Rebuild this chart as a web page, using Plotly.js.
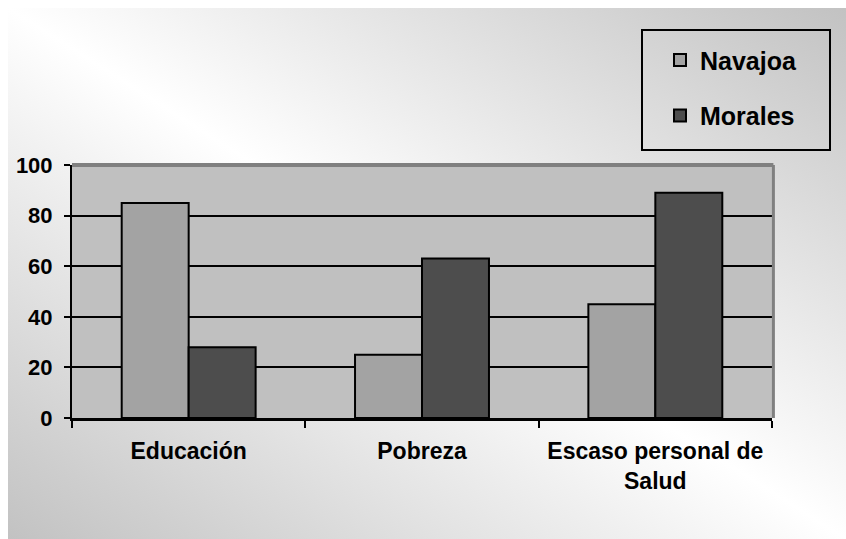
<!DOCTYPE html>
<html>
<head>
<meta charset="utf-8">
<script src="https://cdn.plot.ly/plotly-3.0.1.min.js"></script>
<style>
  html, body { margin: 0; padding: 0; background: #ffffff; }
  #bg { position: absolute; left: 8px; top: 8px; width: 838px; height: 531px;
        background: linear-gradient(to top right, #c2c2c2 0%, #ffffff 50%, #c2c2c2 100%); }
  #chart { position: absolute; left: 0; top: 0; width: 846px; height: 539px; }
</style>
</head>
<body>
<div id="bg"></div>
<div id="chart"></div>
<script>
const categories = ["Educación", "Pobreza", "Escaso personal de<br>Salud"];
const seriesNames = ["Navajoa", "Morales"];
const navajoa = [85, 25, 45];
const morales = [28, 63, 89];
const yTicks = [0, 20, 40, 60, 80, 100];

const font = "Liberation Sans, Arial, sans-serif";

const traces = [
  {
    type: "bar", name: seriesNames[0], x: categories, y: navajoa,
    legendgroup: "a",
    marker: { color: "#a3a3a3", line: { color: "#000000", width: 2 } }
  },
  {
    type: "bar", name: seriesNames[1], x: categories, y: morales,
    legendgroup: "b",
    marker: { color: "#4d4d4d", line: { color: "#000000", width: 2 } }
  }
];

const layout = {
  width: 846, height: 539,
  margin: { l: 72, r: 74, t: 165, b: 121, pad: 0 },
  paper_bgcolor: "rgba(0,0,0,0)",
  plot_bgcolor: "#c0c0c0",
  barmode: "group",
  bargap: 0.426,
  bargroupgap: 0,
  font: { family: font, color: "#000000" },
  showlegend: true,
  legend: {
    x: 0.84, xanchor: "left", y: 1.505, yanchor: "top",
    bgcolor: "rgba(0,0,0,0)", borderwidth: 0,
    font: { family: font, size: 25, color: "#000000", weight: "bold" },
    traceorder: "grouped", tracegroupgap: 20
  },
  xaxis: {
    type: "category",
    showline: true, linecolor: "#000000", linewidth: 3,
    ticks: "outside", tickson: "boundaries", ticklen: 7, tickwidth: 2, tickcolor: "#000000",
    showgrid: false, zeroline: false,
    tickfont: { family: font, size: 23, color: "#000000", weight: "bold" },
    ticklabelstandoff: 10,
    fixedrange: true
  },
  yaxis: {
    range: [0, 100],
    tickmode: "array", tickvals: yTicks, ticktext: yTicks.map(String),
    showline: true, linecolor: "#000000", linewidth: 2,
    ticks: "outside", ticklen: 6, tickwidth: 2, tickcolor: "#000000",
    showgrid: true, gridcolor: "#000000", gridwidth: 2,
    zeroline: false,
    tickfont: { family: font, size: 22, color: "#000000", weight: "bold" },
    ticklabelstandoff: 7,
    fixedrange: true
  },
  shapes: [
    { type: "line", xref: "paper", yref: "paper", x0: 0, x1: 1.002, y0: 1, y1: 1,
      line: { color: "#808080", width: 4 }, layer: "above" },
    { type: "line", xref: "paper", yref: "paper", x0: 1.002, x1: 1.002, y0: 0, y1: 1,
      line: { color: "#808080", width: 3 }, layer: "above" },
    { type: "rect", xref: "paper", yref: "paper",
      x0: (642 - 72) / 700, x1: (830 - 72) / 700, y0: (418 - 150) / 253, y1: (418 - 30) / 253,
      line: { color: "#000000", width: 2 }, fillcolor: "rgba(0,0,0,0)", layer: "above" }
  ]
};

Plotly.newPlot("chart", traces, layout, { displayModeBar: false, staticPlot: true });
</script>
</body>
</html>
